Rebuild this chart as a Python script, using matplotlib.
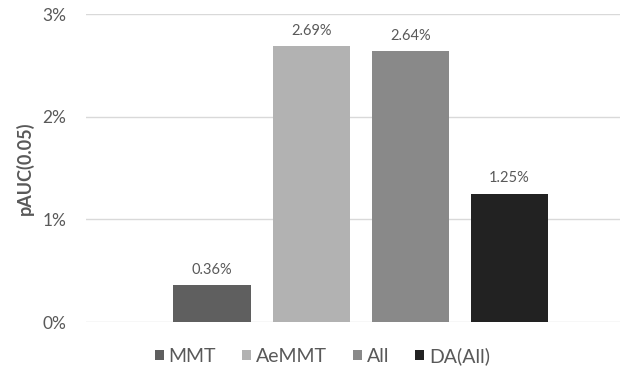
import matplotlib.pyplot as plt
from matplotlib.ticker import FuncFormatter
from matplotlib.patches import Patch

methods = ["MMT", "AeMMT", "All", "DA(All)"]
pauc = [0.36, 2.69, 2.64, 1.25]
colors = ["#5f5f5f", "#b2b2b2", "#898989", "#222222"]
value_labels = ["0.36%", "2.69%", "2.64%", "1.25%"]


def main():
    plt.rcParams['font.family'] = ['Lato', 'DejaVu Sans']
    text_col = "#595959"

    fig = plt.figure(figsize=(6.26, 3.8), dpi=100)
    ax = fig.add_axes([0.1374, 0.1526, 0.8526, 0.8105])

    x = list(range(len(methods)))
    bars = ax.bar(x, pauc, width=0.78, color=colors, zorder=3)
    for b, lab in zip(bars, value_labels):
        ax.text(b.get_x() + b.get_width() / 2, b.get_height() + 0.08, lab,
                ha="center", va="bottom", fontsize=10.5, color=text_col)

    ax.set_xlim(-1.27, 4.11)
    ax.set_ylim(0, 3)
    ax.set_yticks([0, 1, 2, 3])
    ax.yaxis.set_major_formatter(FuncFormatter(lambda v, p: "%d%%" % v))
    ax.set_xticks([])
    ax.grid(axis="y", color="#d9d9d9", linewidth=1, zorder=0)
    for s in ax.spines.values():
        s.set_visible(False)
    ax.tick_params(axis="y", length=0, labelsize=12.5, labelcolor=text_col, pad=14)
    ax.set_ylabel("pAUC(0.05)", fontsize=13, fontweight="bold", color=text_col, labelpad=6)

    handles = [Patch(facecolor=c, label=m) for c, m in zip(colors, methods)]
    fig.legend(handles=handles, loc="center", bbox_to_anchor=(0.515, 0.063), ncol=4,
               frameon=False, fontsize=14, labelcolor=text_col, handlelength=0.45,
               handleheight=0.45, handletextpad=0.25, columnspacing=1.35)

    fig.savefig("out.png", dpi=100)


if __name__ == "__main__":
    main()
